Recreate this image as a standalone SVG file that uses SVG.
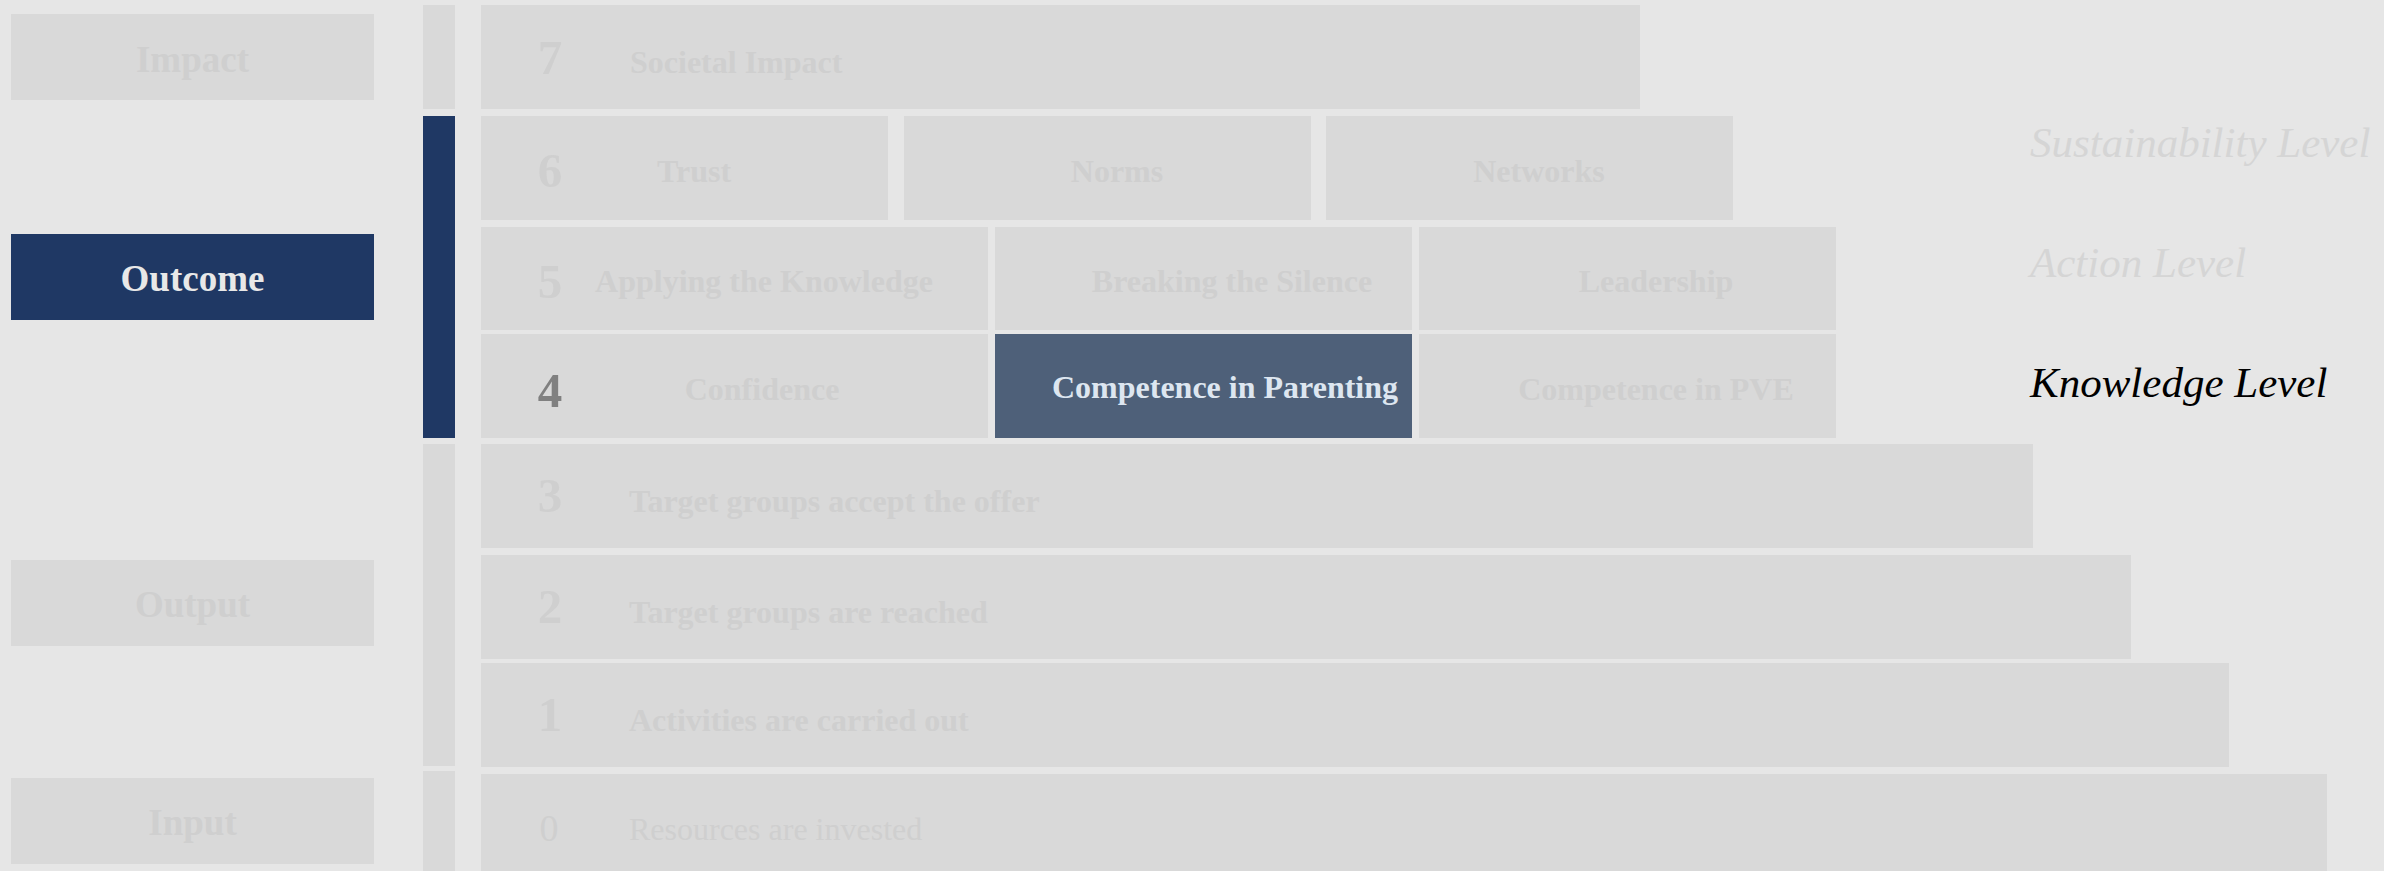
<svg xmlns="http://www.w3.org/2000/svg" width="2384" height="871" viewBox="0 0 2384 871">
<style>
.bg{fill:#e6e6e6}
.box{fill:#d9d9d9}
.navy{fill:#1f3864}
.hl{fill:#4e6079}
.lbl{font-family:"Liberation Serif","Times New Roman",serif;font-weight:bold;font-size:32px;fill:#cfcfcf}
.side{font-family:"Liberation Serif","Times New Roman",serif;font-weight:bold;font-size:37px;fill:#cfcfcf;text-anchor:middle}
.num{font-family:"Liberation Serif","Times New Roman",serif;font-weight:bold;font-size:49px;fill:#cfcfcf;text-anchor:middle}
.mid{text-anchor:middle}
.lvl{font-family:"Liberation Serif","Times New Roman",serif;font-style:italic;font-size:43px;fill:#d5d5d5}
</style>
<rect class="bg" x="0" y="0" width="2384" height="871"/>

<g id="side-impact"><rect class="box" x="11" y="14" width="363" height="86"/><text class="side" x="192.5" y="72">Impact</text></g>
<g id="side-outcome"><rect class="navy" x="11" y="234" width="363" height="86"/><text class="side" x="192.5" y="291" style="fill:#e8e8e8">Outcome</text></g>
<g id="side-output"><rect class="box" x="11" y="560" width="363" height="86"/><text class="side" x="192.5" y="617">Output</text></g>
<g id="side-input"><rect class="box" x="11" y="778" width="363" height="86"/><text class="side" x="192.5" y="835">Input</text></g>

<g id="bar">
<rect class="box" x="423" y="5" width="32" height="104"/>
<rect class="navy" x="423" y="116" width="32" height="322"/>
<rect class="box" x="423" y="444" width="32" height="322"/>
<rect class="box" x="423" y="771" width="32" height="110"/>
</g>

<g id="row7"><rect class="box" x="481" y="5" width="1159" height="104"/><text class="num" x="550" y="74">7</text><text class="lbl" x="630" y="73">Societal Impact</text></g>

<g id="trust"><rect class="box" x="481" y="116" width="407" height="104"/><text class="num" x="550" y="187">6</text><text class="lbl mid" x="694" y="182">Trust</text></g>
<g id="norms"><rect class="box" x="904" y="116" width="407" height="104"/><text class="lbl mid" x="1117" y="182">Norms</text></g>
<g id="networks"><rect class="box" x="1326" y="116" width="407" height="104"/><text class="lbl mid" x="1539" y="182">Networks</text></g>

<g id="applying"><rect class="box" x="481" y="227" width="507" height="103"/><text class="num" x="550" y="298">5</text><text class="lbl mid" x="764" y="292">Applying the Knowledge</text></g>
<g id="breaking"><rect class="box" x="995" y="227" width="417" height="103"/><text class="lbl mid" x="1232" y="292">Breaking the Silence</text></g>
<g id="leadership"><rect class="box" x="1419" y="227" width="417" height="103"/><text class="lbl mid" x="1656" y="292">Leadership</text></g>

<g id="confidence"><rect class="box" x="481" y="334" width="507" height="104"/><text class="num" x="550" y="407" style="fill:#808080">4</text><text class="lbl mid" x="762" y="400">Confidence</text></g>
<g id="parenting"><rect class="hl" x="995" y="334" width="417" height="104"/><text class="lbl mid" x="1225" y="398" style="fill:#dde6f0">Competence in Parenting</text></g>
<g id="pve"><rect class="box" x="1419" y="334" width="417" height="104"/><text class="lbl mid" x="1656" y="400">Competence in PVE</text></g>

<g id="row3"><rect class="box" x="481" y="444" width="1552" height="104"/><text class="num" x="550" y="512">3</text><text class="lbl" x="629" y="512">Target groups accept the offer</text></g>
<g id="row2"><rect class="box" x="481" y="555" width="1650" height="104"/><text class="num" x="550" y="623">2</text><text class="lbl" x="629" y="623">Target groups are reached</text></g>
<g id="row1"><rect class="box" x="481" y="663" width="1748" height="104"/><text class="num" x="550" y="731">1</text><text class="lbl" x="629" y="731">Activities are carried out</text></g>
<g id="row0"><rect class="box" x="481" y="774" width="1846" height="110"/><text class="num" x="549" y="841" style="font-weight:normal;font-size:38px">0</text><text class="lbl" x="629" y="840" style="font-weight:normal">Resources are invested</text></g>

<g id="levels">
<text class="lvl" x="2030" y="157">Sustainability Level</text>
<text class="lvl" x="2030" y="277">Action Level</text>
<text class="lvl" x="2030" y="397" style="fill:#000000">Knowledge Level</text>
</g>
</svg>
